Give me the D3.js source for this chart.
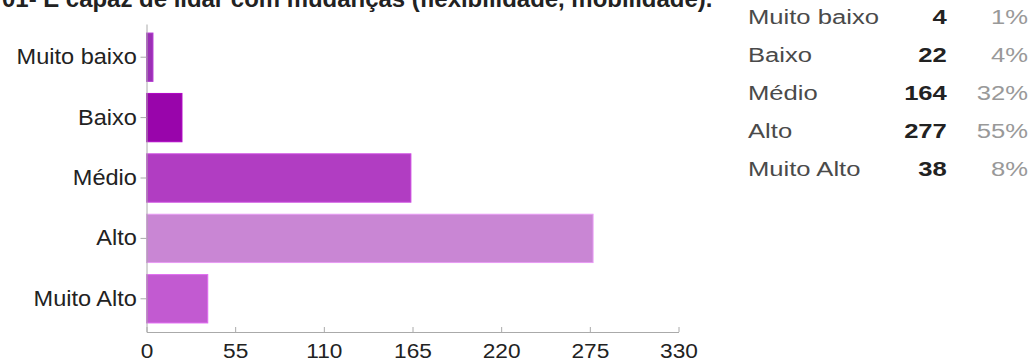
<!DOCTYPE html>
<html>
<head>
<meta charset="utf-8">
<script src="https://cdn.jsdelivr.net/npm/d3@7"></script>
<style>
  body { margin: 0; background: #fff; }
  svg { display: block; font-family: Arial, "Liberation Sans", sans-serif; }
</style>
</head>
<body>
<div id="graph"></div>
<script>
// data
var title = "01- É capaz de lidar com mudanças (flexibilidade, mobilidade).";
var categories = ["Muito baixo", "Baixo", "Médio", "Alto", "Muito Alto"];
var counts = [4, 22, 164, 277, 38];
var percents = ["1%", "4%", "32%", "55%", "8%"];
var xTicks = [0, 55, 110, 165, 220, 275, 330];
var barColors = ["#9b30b5", "#9905ab", "#b13dc2", "#c986d4", "#c25ad1"];

var W = 1034, H = 362;

var svg = d3.select("#graph")
    .append("svg")
    .attr("width", W)
    .attr("height", H);

// title, cut off at the top in the reference
var t = svg.append("text")
    .attr("x", 2)
    .attr("y", 7)
    .attr("font-weight", "bold")
    .attr("font-size", 20)
    .attr("fill", "#222")
    .text(title);
var tw = t.node().getComputedTextLength();
t.attr("font-size", 20 * 711 / tw);

// scales
var x = d3.scaleLinear()
    .domain([0, 330])
    .range([146.5, 678.5]);

var y = d3.scaleBand()
    .domain(categories)
    .range([24, 332])
    .paddingInner(0.2)
    .paddingOuter(0.15);

var color = d3.scaleOrdinal()
    .domain(categories)
    .range(barColors);

// bars
svg.append("g")
    .selectAll("rect")
    .data(categories)
    .enter()
    .append("rect")
    .attr("x", x(0))
    .attr("y", function (d) { return y(d); })
    .attr("width", function (d, i) { return x(counts[i]) - x(0); })
    .attr("height", y.bandwidth())
    .attr("fill", function (d) { return color(d); })
    .attr("stroke", function (d) { return d3.color(color(d)).brighter(0.4); })
    .attr("stroke-width", 1);

// x axis
var xAxis = svg.append("g")
    .attr("transform", "translate(0," + y.range()[1] + ")")
    .call(d3.axisBottom(x).tickValues(xTicks).tickSize(-5).tickSizeOuter(0).tickPadding(11));
xAxis.select(".domain").attr("stroke", "#aaa");
xAxis.selectAll(".tick line").attr("stroke", "#aaa");
xAxis.selectAll("text")
    .attr("font-size", 21)
    .attr("fill", "#222")
    .attr("font-family", "Arial, 'Liberation Sans', sans-serif")
    .attr("transform", "scale(1.08,1)");

// y axis
var yAxis = svg.append("g")
    .attr("transform", "translate(" + x(0) + ",0)")
    .call(d3.axisLeft(y).tickSize(6).tickSizeOuter(0).tickPadding(3));
yAxis.select(".domain").attr("stroke", "#aaa");
yAxis.selectAll(".tick line").attr("stroke", "#aaa");
yAxis.selectAll("text")
    .attr("font-size", 22)
    .attr("fill", "#222")
    .attr("font-family", "Arial, 'Liberation Sans', sans-serif")
    .attr("transform", "scale(1.07,1)");

// summary table on the right
var rowY = d3.scalePoint()
    .domain(categories)
    .range([24, 176]);

var table = svg.append("g")
    .attr("transform", "translate(748,0) scale(1.22,1)")
    .attr("font-size", 21);

categories.forEach(function (c, i) {
    table.append("text")
        .attr("x", 0)
        .attr("y", rowY(c))
        .attr("fill", "#4a4a4a")
        .text(c);
    table.append("text")
        .attr("x", 163)
        .attr("y", rowY(c))
        .attr("text-anchor", "end")
        .attr("font-weight", "bold")
        .attr("fill", "#222")
        .text(counts[i]);
    table.append("text")
        .attr("x", 229.5)
        .attr("y", rowY(c))
        .attr("text-anchor", "end")
        .attr("fill", "#999")
        .text(percents[i]);
});
</script>
</body>
</html>
